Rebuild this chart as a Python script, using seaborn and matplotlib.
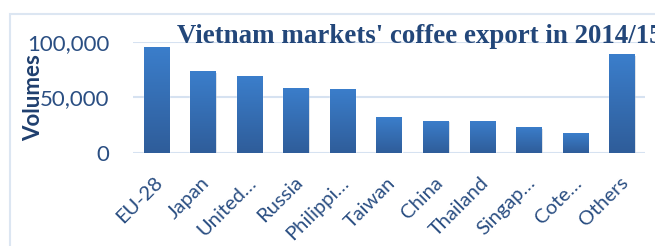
import numpy as np
import pandas as pd
import matplotlib
matplotlib.use("Agg")
import matplotlib.pyplot as plt
import matplotlib.transforms as mtransforms
import seaborn as sns
from matplotlib.patches import Rectangle

# data
markets = ["EU-28", "Japan", "United…", "Russia", "Philippi…", "Taiwan",
           "China", "Thailand", "Singap…", "Cote…", "Others"]
volumes = [95500, 73500, 69000, 59000, 58000, 32000, 29000, 29000, 23500, 18000, 89000]
yticks = [0, 50000, 100000]

df = pd.DataFrame({"market": markets, "volume": volumes})

sns.set_theme(style="white")
plt.rcParams["font.family"] = ["Lato", "DejaVu Sans"]

dark = "#1F3F6E"
tick_col = "#2A4E82"
grid_col = "#D6E2F1"

fig = plt.figure(figsize=(6.55, 2.46), dpi=100)
ax = fig.add_axes([133 / 655, 1 - 153 / 246, 512 / 655, 111 / 246])

# light chart border
fig.patches.append(Rectangle((10 / 655, -0.1), 1.0, 1 - 14 / 246 + 0.1,
                             transform=fig.transFigure, fill=False,
                             edgecolor="#DCE6F2", linewidth=1.5))

sns.barplot(data=df, x="market", y="volume", color="#3570B8", width=0.54,
            ax=ax, zorder=3, saturation=1)

# vertical gradient on the bars plus a soft shadow
grad = np.linspace(0, 1, 100).reshape(-1, 1)
cmap = matplotlib.colors.LinearSegmentedColormap.from_list("b", ["#2F5D9A", "#3B7ECB"])
for p in list(ax.patches):
    x0, w, h = p.get_x(), p.get_width(), p.get_height()
    ax.add_patch(Rectangle((x0 + 0.03, -1500), w, h, color="#8C9AAE",
                           alpha=0.35, zorder=2, linewidth=0))
    im = ax.imshow(grad, extent=(x0, x0 + w, 0, h), origin="lower",
                   cmap=cmap, aspect="auto", zorder=4)
    im.set_clip_path(p)
ax.set_xlim(-0.5, len(markets) - 0.5)
ax.set_ylim(0, 100000)

ax.set_yticks(yticks)
ax.set_yticklabels([f"{v:,}" for v in yticks])
ax.yaxis.grid(True, color=grid_col, linewidth=1.5, zorder=0)
ax.set_axisbelow(True)
for s in ax.spines.values():
    s.set_visible(False)
ax.tick_params(axis="y", length=0, pad=17, labelsize=16, labelcolor=tick_col)
ax.set_xticks(range(len(markets)))
ax.set_xticklabels(markets, rotation=45, ha="right", va="top",
                   rotation_mode="anchor", fontsize=14.5, color=tick_col)
ax.tick_params(axis="x", length=0, pad=15)
shift = mtransforms.ScaledTranslation(-2 / 100, 0, fig.dpi_scale_trans)
for lab in ax.get_xticklabels():
    lab.set_transform(lab.get_transform() + shift)
ax.set_xlabel("")
ax.set_ylabel("Volumes", fontsize=16, fontweight="bold", color=dark)
ax.yaxis.set_label_coords(-0.174, 0.5)

fig.text(177 / 655, 1 - 43 / 246, "Vietnam markets' coffee export in 2014/15",
         family="Liberation Serif", fontweight="bold", fontsize=19.4,
         color="#23477A", ha="left", va="baseline")

fig.savefig("out.png", dpi=100)
